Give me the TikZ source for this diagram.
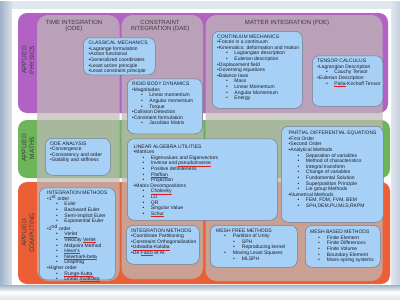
\documentclass[tikz,border=0pt]{standalone}
\usepackage{fontspec}
\setmainfont{Liberation Sans}

\definecolor{physicsband}{RGB}{178,98,196}
\definecolor{mathsband}{RGB}{110,180,90}
\definecolor{computingband}{RGB}{235,95,55}
\definecolor{columngray}{RGB}{190,186,182}
\definecolor{topicblue}{RGB}{166,208,246}
\definecolor{topicedge}{RGB}{112,128,146}
\definecolor{topicink}{RGB}{30,30,40}
\definecolor{labelgray}{RGB}{60,60,60}
\definecolor{framelight}{RGB}{222,230,238}
\definecolor{frameblue}{RGB}{160,178,200}
\definecolor{spellred}{RGB}{225,30,30}

\newcommand{\pSub}[1]{\hspace*{9pt}•\hspace{6.5pt}#1}
\newcommand{\pLvlOne}[1]{\hspace*{8pt}•\hspace{7pt}#1}
\newcommand{\pLvlTwo}[1]{\hspace*{17pt}•\hspace{7pt}#1}
\newsavebox{\pSpellBox}
\newcommand{\pSpell}[1]{\sbox{\pSpellBox}{#1}\rlap{\textcolor{spellred}{\rule[-1pt]{\wd\pSpellBox}{0.35pt}}}\usebox{\pSpellBox}}

\begin{document}
\begin{tikzpicture}[x=1pt,y=-1pt,
  band/.style={rounded corners=9pt},
  column/.style={fill=columngray, fill opacity=0.72, rounded corners=11pt},
  bandlabel/.style={align=center, rotate=90, text=labelgray, font={\fontsize{6.5}{7.6}\selectfont}},
  columnlabel/.style={align=center, text=labelgray, font={\fontsize{6}{6.6}\selectfont}},
  topicbox/.style={draw=topicedge, fill=topicblue, line width=0.5pt, rounded corners=7pt, anchor=north west, inner sep=0pt},
  topictext/.style={anchor=north west, align=left, inner sep=0pt, text=topicink, font={\fontsize{5}{5.6}\selectfont}}]
\useasboundingbox (0,0) rectangle (400,300);
% frame
\fill[white] (0,0) rectangle (400,300);
\shade[left color=frameblue, right color=framelight] (0,1) rectangle (13,299);
\fill[framelight] (13,1) rectangle (400,9);
\shade[left color=framelight, right color=frameblue!60!white] (391,1) rectangle (400,299);
\shade[top color=frameblue, bottom color=framelight, middle color=white] (0,285) rectangle (400,299);
\fill[white] (12,9) rectangle (391,285);
% rows
\fill[band, physicsband] (18,13) rectangle (388,113);
\fill[band, mathsband] (18,120) rectangle (390,178);
\fill[band, computingband] (18,182) rectangle (390,284);
% columns
\fill[column] (37,15) rectangle (119.5,281);
\fill[column] (121.5,15) rectangle (203,279);
\fill[column] (205.5,15) rectangle (382.5,281);
% labels
\node[bandlabel] (physics) at (28,60) {APPLIED\\PHYSICS};
\node[bandlabel] (maths) at (28,148) {APPLIED\\MATHS};
\node[bandlabel] (computing) at (28,233) {APPLIED\\COMPUTING};
\node[columnlabel] (ode) at (74,26) {TIME INTEGRATION\\(ODE)};
\node[columnlabel] (dae) at (160,26) {CONSTRAINT\\INTEGRATION (DAE)};
\node[columnlabel] (pde) at (287,22.5) {MATTER INTEGRATION (PDE)};
% topics
\node[topicbox, minimum width=72pt, minimum height=37pt] (classical) at (83,37.5) {};
\node[topictext] (classical text) at ([shift={(5.5pt,-3.5pt)}]classical.north west) {CLASSICAL MECHANICS\\
•Lagrange formulation\\
•Action functional\\
•Generalized coordinates\\
•Least action principle\\
•Least constraint principle};
\node[topicbox, minimum width=75pt, minimum height=55pt] (rigid) at (127,78.5) {};
\node[topictext] (rigid text) at ([shift={(5pt,-3.5pt)}]rigid.north west) {RIGID BODY DYNAMICS\\
•Magnitudes\\
\pSub{Linear momentum}\\
\pSub{Angular momentum}\\
\pSub{Torque}\\
•Collision Detection\\
•Constraint formulation\\
\pSub{Jacobian Matrix}};
\node[topicbox, minimum width=90pt, minimum height=77pt] (continuum) at (212,31) {};
\node[topictext] (continuum text) at ([shift={(5pt,-3.5pt)}]continuum.north west) {CONTINUUM MECHANICS\\
•Forces in a continuum\\
•Kinematics: deformation and motion\\
\pSub{Lagrangian description}\\
\pSub{Eulerian description}\\
•Displacement field\\
•Governing equations\\
•Balance laws\\
\pSub{Mass}\\
\pSub{Linear Momentum}\\
\pSub{Angular Momentum}\\
\pSub{Energy}};
\node[topicbox, minimum width=70.5pt, minimum height=50.5pt] (tensor) at (312,55.5) {};
\node[topictext] (tensor text) at ([shift={(5pt,-3.5pt)}]tensor.north west) {TENSOR CALCULUS\\
•Lagrangian Description\\
\pSub{Cauchy Tensor}\\
•Eulerian Description\\
\pSub{\pSpell{Piola}-Kirchoff Tensor}};
\node[topicbox, minimum width=65pt, minimum height=37pt] (odeanalysis) at (45,138) {};
\node[topictext] (odeanalysis text) at ([shift={(5pt,-3.5pt)}]odeanalysis.north west) {ODE ANALYSIS\\
•Convergence\\
•Consistency and order\\
•Stability and stiffness};
\node[topicbox, minimum width=150pt, minimum height=81.5pt] (linalg) at (127,138.5) {};
\node[topictext] (linalg text) at ([shift={(6.5pt,-6pt)}]linalg.north west) {LINEAR ALGEBRA UTILITIES\\
•Matrices\\
\pSub{Eigenvalues and Eigenvectors}\\
\pSub{Inverse and \pSpell{pseudoinverse}}\\
\pSub{Positive definiteness}\\
\pSub{\pSpell{Pfaffian}}\\
\pSub{Projection}\\
•Matrix Decompositions\\
\pSub{\pSpell{Cholesky}}\\
\pSub{LU}\\
\pSub{QR}\\
\pSub{Singular Value}\\
\pSub{\pSpell{Schur}}};
\node[topicbox, minimum width=102pt, minimum height=96pt] (pdes) at (281,126) {};
\node[topictext] (pdes text) at ([shift={(7.5pt,-5pt)}]pdes.north west) {PARTIAL DIFFERENTIAL EQUATIONS\\
•First Order\\
•Second Order\\
•Analytical Methods\\
\pSub{Separation of variables}\\
\pSub{Method of characteristics}\\
\pSub{Integral transform}\\
\pSub{Change of variables}\\
\pSub{Fundamental Solution}\\
\pSub{Superposition Principle}\\
\pSub{Lie group Methods}\\
•Numerical Methods\\
\pSub{FEM, FDM, FVM, BEM}\\
\pSub{SPH,DEM,PU,MLS,RKPM}};
\node[topicbox, minimum width=76pt, minimum height=92pt] (odemethods) at (39,187.5) {};
\node[topictext] (odemethods text) at ([shift={(8pt,-3.5pt)}]odemethods.north west) {INTEGRATION METHODS\\
•1\textsuperscript{st} order\\
\pSub{Euler}\\
\pSub{Backward Euler}\\
\pSub{Semi-implicit Euler}\\
\pSub{Exponential Euler}\\
•2\textsuperscript{nd} order\\
\pSub{\pSpell{Verlet}}\\
\pSub{Velocity \pSpell{Verlet}}\\
\pSub{Midpoint Method}\\
\pSub{\pSpell{Heun's}}\\
\pSub{\pSpell{Newmark-beta}}\\
\pSub{Leapfrog}\\
•Higher order\\
\pSub{\pSpell{Runge-Kutta}}\\
\pSub{Linear \pSpell{multistep}}};
\node[topicbox, minimum width=73pt, minimum height=39pt] (daemethods) at (126,225) {};
\node[topictext] (daemethods text) at ([shift={(5pt,-3.5pt)}]daemethods.north west) {INTEGRATION METHODS\\
•Coordinate Partitioning\\
•Constraint Orthogonalization\\
•\pSpell{Udwadia-Kalaba}\\
•De \pSpell{Falco} et Al.};
\node[topicbox, minimum width=87pt, minimum height=42pt] (meshfree) at (210,225) {};
\node[topictext] (meshfree text) at ([shift={(6pt,-3.5pt)}]meshfree.north west) {MESH FREE METHODS\\
\pLvlOne{Partition of Unity}\\
\pLvlTwo{SPH}\\
\pLvlTwo{Reproducing kernel}\\
\pLvlOne{Moving Least Squares}\\
\pLvlTwo{MLSPH}};
\node[topicbox, minimum width=75pt, minimum height=42pt] (meshbased) at (305,225) {};
\node[topictext] (meshbased text) at ([shift={(5pt,-5pt)}]meshbased.north west) {MESH BASED METHODS\\
\pLvlOne{Finite Element}\\
\pLvlOne{Finite Differences}\\
\pLvlOne{Finite Volume}\\
\pLvlOne{Boundary Element}\\
\pLvlOne{Mass-spring systems}};
\end{tikzpicture}
\end{document}
